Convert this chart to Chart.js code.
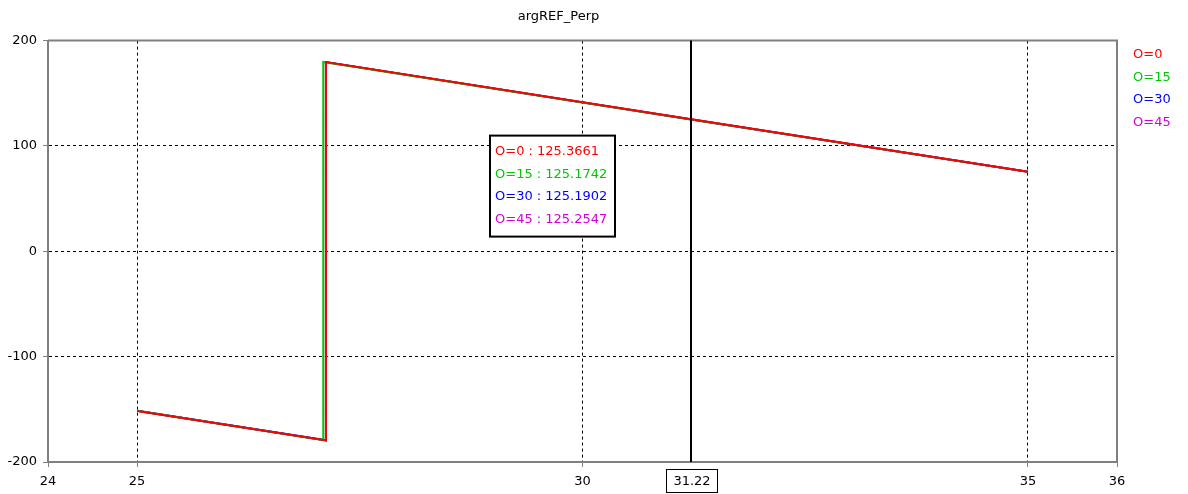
<!DOCTYPE html>
<html>
<head>
<meta charset="utf-8">
<script src="https://cdn.jsdelivr.net/npm/chart.js@4/dist/chart.umd.min.js"></script>
<style>
  html, body { margin: 0; padding: 0; background: #fff; }
  #wrap { width: 1188px; height: 494px; position: relative; }
</style>
</head>
<body>
<div id="wrap"><canvas id="chart"></canvas></div>
<script>
// values
const seriesNames = ['O=0', 'O=15', 'O=30', 'O=45'];
const seriesColors = ['#ff0000', '#00c800', '#0000ff', '#d200d2'];

const xO0 = [25, 27.12, 27.12, 31.22, 35];
const yO0 = [-151.5, -179.5, 179.6, 125.3661, 75.6];
const xO15 = [25, 27.09, 27.09, 31.22, 35];
const yO15 = [-151.3, -179.3, 179.7, 125.1742, 75.4];
const xO30 = [25, 27.12, 27.12, 31.22, 35];
const yO30 = [-151.4, -179.4, 179.6, 125.1902, 75.5];
const xO45 = [25, 27.12, 27.12, 31.22, 35];
const yO45 = [-151.4, -179.4, 179.6, 125.2547, 75.5];

const xTicks = [24, 25, 30, 35, 36];
const yTicks = [-200, -100, 0, 100, 200];
const cursorX = 31.22;

const FONT = 'DejaVu Sans';

function toPoints(xs, ys) {
    return xs.map((x, i) => ({ x: x, y: ys[i] }));
}

const allX = [xO0, xO15, xO30, xO45];
const allY = [yO0, yO15, yO30, yO45];

const datasets = seriesNames.map((name, i) => ({
    label: name,
    data: toPoints(allX[i], allY[i]),
    borderColor: seriesColors[i],
    backgroundColor: seriesColors[i],
    borderWidth: 2,
    pointRadius: 0,
    tension: 0,
    fill: false,
}));

// cursor line, value box, cursor label, right-side legend and frame
const overlayPlugin = {
    id: 'overlay',
    afterDatasetsDraw(chart) {
        const { ctx, chartArea, scales } = chart;
        const px = Math.round(scales.x.getPixelForValue(cursorX));

        ctx.save();
        // top / right frame
        ctx.strokeStyle = '#808080';
        ctx.lineWidth = 2;
        ctx.beginPath();
        ctx.moveTo(chartArea.left, chartArea.top);
        ctx.lineTo(chartArea.right, chartArea.top);
        ctx.lineTo(chartArea.right, chartArea.bottom);
        ctx.stroke();

        // cursor line
        ctx.strokeStyle = '#000';
        ctx.lineWidth = 2;
        ctx.beginPath();
        ctx.moveTo(px, chartArea.top);
        ctx.lineTo(px, chartArea.bottom);
        ctx.stroke();

        // cursor label under the axis
        ctx.font = '13px "' + FONT + '"';
        ctx.textAlign = 'center';
        ctx.textBaseline = 'middle';
        ctx.fillStyle = '#fff';
        ctx.fillRect(px - 25, chartArea.bottom + 7, 51, 23);
        ctx.lineWidth = 1;
        ctx.strokeRect(px - 24.5, chartArea.bottom + 7.5, 51, 23);
        ctx.fillStyle = '#000';
        ctx.fillText(cursorX.toFixed(2), px + 1, chartArea.bottom + 19.5);

        // value box
        const bx = px - 201, by = chartArea.top + 95;
        ctx.fillStyle = '#fff';
        ctx.fillRect(bx, by, 125, 101);
        ctx.lineWidth = 2;
        ctx.strokeStyle = '#000';
        ctx.strokeRect(bx, by, 125, 101);
        ctx.font = '13px "' + FONT + '"';
        ctx.textAlign = 'left';
        chart.data.datasets.forEach((ds, i) => {
            const pt = ds.data.find(p => p.x === cursorX);
            ctx.fillStyle = ds.borderColor;
            ctx.fillText(ds.label + ' : ' + pt.y.toFixed(4), bx + 5, by + 16 + i * 22.6);
        });

        // legend
        chart.data.datasets.forEach((ds, i) => {
            ctx.fillStyle = ds.borderColor;
            ctx.fillText(ds.label, chartArea.right + 16, chartArea.top + 14 + i * 22.7);
        });
        ctx.restore();
    }
};

new Chart(document.getElementById('chart'), {
    type: 'line',
    data: { datasets: datasets },
    options: {
        responsive: true,
        maintainAspectRatio: false,
        animation: false,
        events: [],
        layout: { padding: { left: 0, right: 71, top: 0, bottom: 0 } },
        plugins: {
            legend: { display: false },
            tooltip: { enabled: false },
            title: {
                display: true,
                text: 'argREF_Perp',
                color: '#000',
                font: { family: FONT, size: 13, weight: 'normal' },
                padding: { top: 9, bottom: 16 },
            },
        },
        scales: {
            x: {
                type: 'linear',
                min: 24,
                max: 36,
                afterBuildTicks: (scale) => { scale.ticks = xTicks.map(v => ({ value: v })); },
                afterFit: (scale) => { scale.height = 32; },
                ticks: {
                    color: '#000',
                    font: { family: FONT, size: 13 },
                    padding: 7,
                    maxRotation: 0,
                    autoSkip: false,
                },
                grid: {
                    color: (c) => (c.tick && (c.tick.value === 24 || c.tick.value === 36)) ? 'rgba(0,0,0,0)' : '#000',
                    lineWidth: 1,
                    tickColor: '#808080',
                    tickLength: 5,
                    tickWidth: 1,
                    tickBorderDash: [],
                },
                border: { color: '#808080', width: 2, dash: [3, 3] },
            },
            y: {
                min: -200,
                max: 200,
                afterBuildTicks: (scale) => { scale.ticks = yTicks.map(v => ({ value: v })); },
                afterFit: (scale) => { scale.width = 48; },
                ticks: {
                    color: '#000',
                    font: { family: FONT, size: 13 },
                    padding: 6,
                },
                grid: {
                    color: (c) => (c.tick && (c.tick.value === 200 || c.tick.value === -200)) ? 'rgba(0,0,0,0)' : '#000',
                    lineWidth: 1,
                    tickColor: '#808080',
                    tickLength: 5,
                    tickWidth: 1,
                    tickBorderDash: [],
                },
                border: { color: '#808080', width: 2, dash: [3, 3] },
            },
        },
    },
    plugins: [overlayPlugin],
});
</script>
</body>
</html>
